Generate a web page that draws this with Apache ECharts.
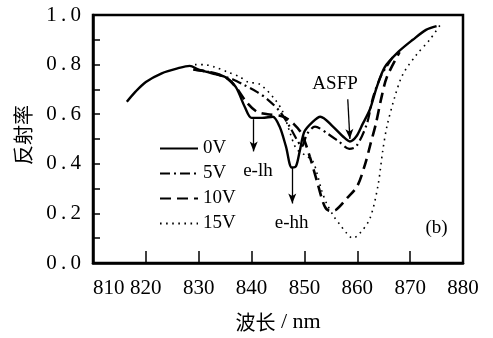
<!DOCTYPE html>
<html>
<head>
<meta charset="utf-8">
<script src="https://cdn.jsdelivr.net/npm/echarts@6/dist/echarts.min.js"></script>
<style>
  html, body { margin: 0; padding: 0; background: #fff; }
  #chart { width: 493px; height: 338px; }
</style>
</head>
<body>
<div id="chart"></div>
<script>
// wavelength (nm) / reflectance pairs
var v0 = [
  [816.4, 0.65], [818, 0.69], [820, 0.73], [823, 0.765], [826, 0.785], [828.3, 0.795],
  [830, 0.78], [832.5, 0.765], [835, 0.75], [837, 0.71], [838.7, 0.63], [840, 0.585],
  [842, 0.585], [844, 0.59], [845.3, 0.55], [846.5, 0.47], [847.6, 0.385], [848.4, 0.39],
  [849.1, 0.45], [850, 0.53], [851.6, 0.57], [853, 0.59], [855.4, 0.55], [857.3, 0.51],
  [858.6, 0.49], [859.8, 0.51], [861, 0.56], [862.4, 0.62], [863.7, 0.71], [865.2, 0.79],
  [867.7, 0.85], [870.5, 0.90], [873, 0.94], [875, 0.955]
];
var v5 = [
  [829, 0.78], [832, 0.77], [835, 0.75], [836.5, 0.74], [838.4, 0.72], [841, 0.69],
  [843, 0.66], [845.4, 0.61], [847.2, 0.55], [848.5, 0.50], [849.5, 0.47], [850.5, 0.52],
  [852, 0.55], [854.5, 0.52], [856.5, 0.49], [858.5, 0.46], [859.8, 0.47], [861.8, 0.56],
  [863, 0.67], [864.6, 0.76], [865.5, 0.79], [867, 0.84]
];
var v10 = [
  [829, 0.78], [832, 0.77], [835, 0.75], [837, 0.71], [839, 0.65], [841, 0.61],
  [843, 0.60], [846, 0.59], [848, 0.56], [849.5, 0.52], [851, 0.43], [852.5, 0.32],
  [853.8, 0.23], [854.8, 0.21], [856, 0.215], [858, 0.26], [860, 0.31], [861.5, 0.40],
  [862.5, 0.48], [863.5, 0.56], [864.6, 0.67], [865.6, 0.75], [868, 0.85]
];
var v15 = [
  [829.3, 0.80], [831, 0.80], [833, 0.79], [835.5, 0.77], [837.8, 0.75], [839.3, 0.73],
  [841.6, 0.72], [844.4, 0.66], [845.9, 0.61], [847.2, 0.53], [848.5, 0.46], [850.5, 0.43],
  [851.6, 0.41], [852.4, 0.36], [853.3, 0.29], [854.2, 0.24], [855.5, 0.19], [856.7, 0.155],
  [858, 0.12], [859.1, 0.10], [860.5, 0.12], [862.4, 0.18], [863.9, 0.31], [864.8, 0.45],
  [865.6, 0.55], [867.1, 0.67], [868.6, 0.76], [871.2, 0.84], [873.7, 0.90], [876, 0.97]
];
var seriesNames = ['0V', '5V', '10V', '15V'];

// annotation texts and arrows (data coordinates)
var notes = [
  { text: 'ASFP', at: [855.8, 0.72] },
  { text: 'e-lh', at: [841.2, 0.372] },
  { text: 'e-hh', at: [847.6, 0.16] },
  { text: '(b)', at: [875, 0.14] }
];
var arrows = [
  [[858.2, 0.66], [858.6, 0.50]],
  [[840.4, 0.58], [840.4, 0.45]],
  [[847.7, 0.385], [847.7, 0.24]]
];

var serif = "'Liberation Serif', 'DejaVu Serif', serif";
var cjk = "'Noto Sans CJK SC', sans-serif";
var chart = echarts.init(document.getElementById('chart'));

var base = {
  type: 'line', symbol: 'circle', symbolSize: 1, showSymbol: false, smooth: 0.3, silent: true, z: 3,
  itemStyle: { color: '#000', opacity: 0 }
};
var tickText = { fontFamily: serif, fontSize: 21, color: '#000' };

var option = {
  backgroundColor: '#ffffff',
  animation: false,
  textStyle: { fontFamily: serif, color: '#000' },
  grid: {
    left: 93, right: 30, top: 15, bottom: 73,
    show: true, borderColor: '#000', borderWidth: 2.5
  },
  legend: {
    data: seriesNames,
    orient: 'vertical',
    left: 154, top: 133,
    itemWidth: 38, itemHeight: 12, itemGap: 4,
    textStyle: { fontFamily: serif, fontSize: 19, color: '#000', lineHeight: 21 }
  },
  xAxis: {
    type: 'value', min: 810, max: 880, interval: 10,
    name: '{c|波长}{s| / nm}', nameLocation: 'middle', nameGap: 48,
    nameTextStyle: {
      fontFamily: cjk, fontSize: 20, color: '#000',
      rich: {
        c: { fontFamily: cjk, fontSize: 20, color: '#000' },
        s: { fontFamily: serif, fontSize: 22, color: '#000' }
      }
    },
    axisLine: { lineStyle: { color: '#000', width: 2.5 } },
    axisTick: { inside: true, length: 12, lineStyle: { color: '#000', width: 1.5 } },
    axisLabel: {
      fontFamily: serif, fontSize: 21, color: '#000', margin: 15, alignMinLabel: 'left',
      formatter: '{t|{value}}', rich: { t: tickText }
    },
    splitLine: { show: false }
  },
  yAxis: {
    type: 'value', min: 0, max: 1, interval: 0.1,
    name: '反射率', nameLocation: 'middle', nameGap: 60, nameRotate: 90,
    nameTextStyle: { fontFamily: cjk, fontSize: 20, color: '#000', padding: [0, 0, 0, 8] },
    axisLine: { lineStyle: { color: '#000', width: 2.5 } },
    axisTick: { inside: true, length: 7, lineStyle: { color: '#000', width: 1.5 } },
    axisLabel: {
      fontFamily: serif, fontSize: 21, color: '#000', margin: 12, rich: { t: tickText },
      formatter: function (v) {
        return Math.round(v * 10) % 2 === 0 ? '{t|' + v.toFixed(1).split('').join('\u2009') + '}' : '';
      }
    },
    splitLine: { show: false }
  },
  series: [
    Object.assign({}, base, { name: '0V', data: v0, lineStyle: { color: '#000', width: 2.4, type: 'solid' },
      markPoint: {
        symbol: 'rect', symbolSize: 2, silent: true,
        itemStyle: { color: 'rgba(0,0,0,0)', opacity: 1 },
        label: { show: true, position: 'inside', fontFamily: serif, fontSize: 19, color: '#000', formatter: '{b}' },
        data: notes.map(function (n) { return { name: n.text, coord: n.at }; })
      },
      markLine: {
        silent: true, symbol: ['none', 'arrow'], symbolSize: [6, 10],
        label: { show: false },
        lineStyle: { color: '#000', width: 1.3, type: 'solid' },
        data: arrows.map(function (a) { return [{ coord: a[0] }, { coord: a[1] }]; })
      }
    }),
    Object.assign({}, base, { name: '5V', data: v5, lineStyle: { color: '#000', width: 2.2, type: [10, 4, 2, 4] } }),
    Object.assign({}, base, { name: '10V', data: v10, lineStyle: { color: '#000', width: 2.6, type: [11, 6] } }),
    Object.assign({}, base, { name: '15V', data: v15, lineStyle: { color: '#000', width: 1.6, type: [1.6, 4.5] } })
  ]
};
chart.setOption(option);
</script>
</body>
</html>
